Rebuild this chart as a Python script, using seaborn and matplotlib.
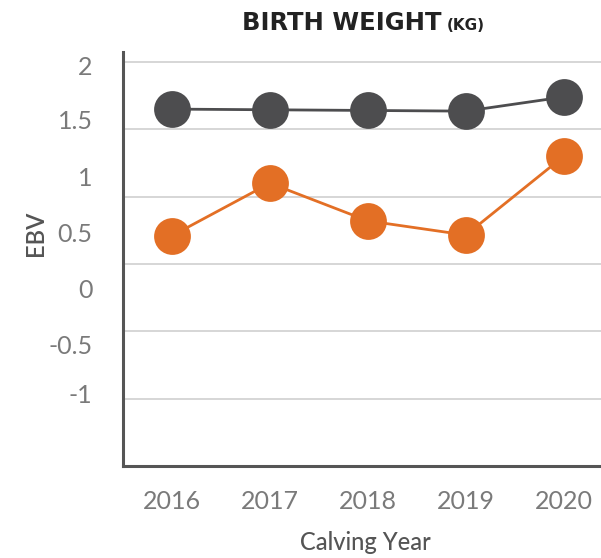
import matplotlib
matplotlib.use("Agg")
import matplotlib.pyplot as plt
import seaborn as sns

# data
years = [2016, 2017, 2018, 2019, 2020]
ebv_gray = [1.65, 1.645, 1.64, 1.635, 1.74]
ebv_orange = [0.71, 1.10, 0.82, 0.715, 1.30]

grid_vals = [2, 1.5, 1, 0.5, 0, -0.5]
# the original chart's y labels sit off the gridlines, keep that quirk
ytick_labels = ["2", "1.5", "1", "0.5", "0", "-0.5", "-1"]
ytick_label_pos = [1.975, 1.57, 1.15, 0.735, 0.315, -0.095, -0.465]

gray = "#4d4d4f"
orange = "#e36f25"

sns.set_style("white")
plt.rcParams['font.family'] = ['Lato', 'DejaVu Sans']

fig = plt.figure(figsize=(6.01, 5.58), dpi=100)
ax = fig.add_axes([0.2047, 0.1649, 0.7953, 0.7419])

for yv in grid_vals:
    ax.axhline(yv, color="#cccccc", lw=1.1, zorder=0)

sns.lineplot(x=years, y=ebv_gray, color=gray, marker="o", markersize=26.5,
             markeredgewidth=0, linewidth=2, ax=ax, zorder=3)
sns.lineplot(x=years, y=ebv_orange, color=orange, marker="o", markersize=26.5,
             markeredgewidth=0, linewidth=2, ax=ax, zorder=3)

ax.set_xlim(2015.5, 2020.38)
ax.set_ylim(-1.0, 2.074)

tick_color = "#7a7a7a"
ax.set_xticks(years)
ax.set_xticklabels([str(y) for y in years], fontsize=18, color=tick_color)
ax.tick_params(axis="x", length=0, pad=17)

ax.set_yticks(grid_vals)
ax.set_yticklabels([""] * len(grid_vals))
ax.tick_params(axis="y", which="major", length=11, width=1.1, color="#cccccc",
               direction="out")
ax.set_yticks(ytick_label_pos, minor=True)
ax.set_yticklabels(ytick_labels, minor=True, fontsize=18, color=tick_color)
ax.tick_params(axis="y", which="minor", length=0, pad=22)

for s in ["top", "right"]:
    ax.spines[s].set_visible(False)
for s in ["left", "bottom"]:
    ax.spines[s].set_color("#555555")
    ax.spines[s].set_linewidth(2.2)

ax.set_xlabel("Calving Year", fontsize=17, color="#555555", fontweight="medium")
ax.set_ylabel("EBV", fontsize=17, color="#555555", fontweight="semibold")
ax.xaxis.set_label_coords(0.507, -0.158)
ax.yaxis.set_label_coords(-0.16, 0.563)

fig.text(442 / 601, 1 - 30 / 558, "BIRTH WEIGHT", ha="right", va="baseline",
         fontsize=17.5, fontweight="bold", color="#222222", family="DejaVu Sans")
fig.text(447 / 601, 1 - 30 / 558, "(KG)", ha="left", va="baseline",
         fontsize=11, fontweight="bold", color="#222222", family="DejaVu Sans")

fig.savefig("out.png", dpi=100)
